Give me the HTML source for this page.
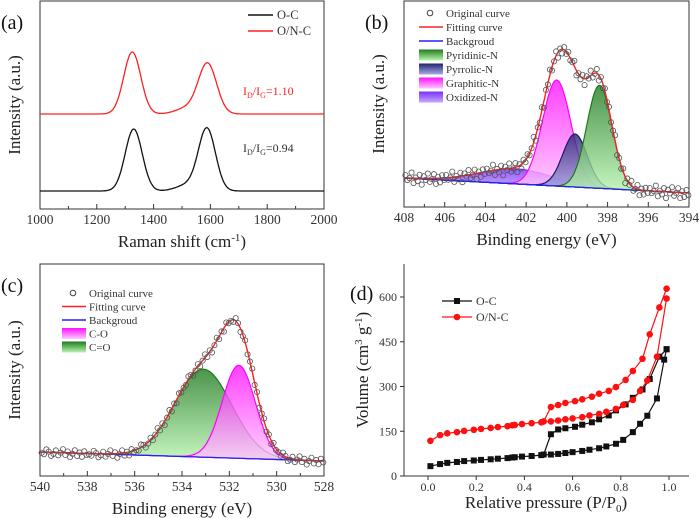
<!DOCTYPE html>
<html><head><meta charset="utf-8"><style>
html,body{margin:0;padding:0;background:#fff;}
svg{display:block;font-family:"Liberation Serif",serif;}
</style></head><body>
<svg id="fig" width="700" height="518" viewBox="0 0 700 518" xmlns="http://www.w3.org/2000/svg">
<defs>
<linearGradient id="gGreen" x1="0" y1="0" x2="0" y2="1"><stop offset="0" stop-color="#1f7a1f"/><stop offset="1" stop-color="#b8f5b0"/></linearGradient>
<linearGradient id="gNavy" x1="0" y1="0" x2="0" y2="1"><stop offset="0" stop-color="#23236e"/><stop offset="1" stop-color="#a8a8e8"/></linearGradient>
<linearGradient id="gMag" x1="0" y1="0" x2="0" y2="1"><stop offset="0" stop-color="#ff10ff"/><stop offset="1" stop-color="#ffc8ff"/></linearGradient>
<linearGradient id="gPur" x1="0" y1="0" x2="0" y2="1"><stop offset="0" stop-color="#7a30ff"/><stop offset="1" stop-color="#c8a8ff"/></linearGradient>
</defs>
</svg>
<script>
// ---------- data ----------
// (a) Raman peaks: [center, height(a.u.), sigma]
const ramanOC = [[1330, 62, 30], [1588, 62, 30], [1520, 6, 40]];
const ramanONC = [[1325, 62, 30], [1590, 50, 32], [1520, 6, 40]];
const ramanTicks = [1000, 1200, 1400, 1600, 1800, 2000];
// (b) N1s components: [center eV, height, sigma]
const n1sPyridinic = [398.4, 103, 0.62];
const n1sPyrrolic = [399.6, 53, 0.6];
const n1sGraphitic = [400.5, 106, 0.7];
const n1sOxidized = [402.5, 15, 1.8];
const n1sTicks = [408, 406, 404, 402, 400, 398, 396, 394];
const n1sNoise = [3, -4, 6, -2, 8, -6, 1, 5, -7, 2, -3, 9, -5, 4, -1, 7, -8, 0, 3, -4];
// (c) O1s components
const o1sCO = [531.6, 93, 0.7];
const o1sCdO = [533.1, 88, 1.2];
const o1sTicks = [540, 538, 536, 534, 532, 530, 528];
const o1sNoise = [2, -3, 5, -1, 4, -4, 1, 6, -2, 3, -5, 0, 4, -3, 2, 5, -1, -4, 3, 1];
// (d) isotherms
const ocAdsP = [0.01,0.05,0.08,0.12,0.15,0.19,0.22,0.26,0.29,0.33,0.35,0.36,0.39,0.43,0.47,0.51,0.54,0.57,0.6,0.64,0.67,0.71,0.74,0.78,0.81,0.85,0.88,0.91,0.95,0.98,0.99];
const ocAdsV = [33,40,44,47,50,52,54,56,58,60,62,63,65,67,70,72,74,77,80,84,88,93,99,108,121,147,175,202,260,390,425];
const ocDesP = [0.99,0.96,0.92,0.89,0.85,0.82,0.78,0.75,0.71,0.68,0.64,0.61,0.57,0.54,0.51,0.48];
const ocDesV = [425,400,325,290,262,240,220,203,190,180,172,165,160,156,140,72];
const oncAdsP = [0.01,0.05,0.08,0.12,0.15,0.19,0.22,0.26,0.29,0.33,0.35,0.36,0.39,0.43,0.47,0.51,0.54,0.57,0.6,0.64,0.67,0.71,0.74,0.78,0.81,0.85,0.88,0.91,0.95,0.99];
const oncAdsV = [118,137,143,147,151,155,158,161,164,167,170,171,174,177,180,183,186,190,193,197,203,208,215,225,238,255,285,320,400,595];
const oncDesP = [0.99,0.96,0.92,0.89,0.85,0.82,0.78,0.75,0.71,0.68,0.64,0.61,0.57,0.54,0.51,0.48];
const oncDesV = [628,565,475,393,352,322,298,285,276,266,257,251,245,238,231,183];
const isoXTicks = [0.0, 0.2, 0.4, 0.6, 0.8, 1.0];
const isoYTicks = [0, 150, 300, 450, 600];

// ---------- helpers ----------
const NS = "http://www.w3.org/2000/svg";
const svg = document.getElementById('fig');
function mk(tag, attrs, parent) {
  const e = document.createElementNS(NS, tag);
  for (const k in attrs) e.setAttribute(k, attrs[k]);
  (parent || svg).appendChild(e);
  return e;
}
function txt(s, x, y, size, anchor, fill, parent) {
  const t = mk('text', {x: x, y: y, 'font-size': size, 'text-anchor': anchor || 'start', fill: fill || '#222'}, parent);
  t.textContent = s;
  return t;
}
function gauss(x, p) { return p[1] * Math.exp(-((x - p[0]) ** 2) / (2 * p[2] * p[2])); }
function pathFrom(pts) { return pts.map((p, i) => (i ? 'L' : 'M') + p[0].toFixed(1) + ',' + p[1].toFixed(1)).join(''); }

// ================= Panel (a) =================
(function () {
  const g = mk('g', {});
  
  
  const L = 40, R = 324, T = 1, B = 209;
  const xs = v => L + (v - 1000) / 1000 * (R - L);
  const frame = mk('rect', {x: L, y: T, width: R - L, height: B - T, fill: 'none', stroke: '#333', 'stroke-width': 1}, g);
  
  
  for (let v = 1000; v <= 2000; v += 100) {
    const major = ramanTicks.includes(v);
    mk('line', {x1: xs(v), x2: xs(v), y1: B, y2: B - (major ? 5 : 3), stroke: '#333'}, g);
  }
  ramanTicks.forEach(v => {
    const t = txt(String(v), xs(v), 224, 13.5, 'middle', '#333', g);
    
    
  });
  const xt = mk('text', {x: 182, y: 247, 'font-size': 17, 'text-anchor': 'middle', fill: '#222'}, g);
  xt.innerHTML = 'Raman shift (cm<tspan dy="-6" font-size="11">-1</tspan><tspan dy="6">)</tspan>';
  
  
  const yt = txt('Intensity (a.u.)', 0, 0, 17, 'middle', '#222', g);
  yt.setAttribute('transform', 'translate(20,105) rotate(-90)');
  
  
  const pl = txt('(a)', 1, 29, 20, 'start', '#111', g);
  
  
  function spec(peaks, base) {
    const pts = [];
    for (let v = 1000; v <= 2000; v += 4) {
      let s = 0; peaks.forEach(p => s += gauss(v, p));
      pts.push([xs(v), base - s]);
    }
    return pathFrom(pts);
  }
  const lr = mk('path', {d: spec(ramanONC, 114), fill: 'none', stroke: '#ff2020', 'stroke-width': 1.3}, g);
  
  
  const lb = mk('path', {d: spec(ramanOC, 191), fill: 'none', stroke: '#111', 'stroke-width': 1.3}, g);
  
  
  const a1 = mk('text', {x: 243, y: 95, 'font-size': 12, fill: '#ff2020'}, g);
  a1.innerHTML = 'I<tspan font-size="8" dy="3">D</tspan><tspan dy="-3">/I</tspan><tspan font-size="8" dy="3">G</tspan><tspan dy="-3">=1.10</tspan>';
  
  
  const a2 = mk('text', {x: 243, y: 152, 'font-size': 12, fill: '#333'}, g);
  a2.innerHTML = 'I<tspan font-size="8" dy="3">D</tspan><tspan dy="-3">/I</tspan><tspan font-size="8" dy="3">G</tspan><tspan dy="-3">=0.94</tspan>';
  
  
  const le1 = mk('line', {x1: 248, x2: 273, y1: 15, y2: 15, stroke: '#111', 'stroke-width': 1.5}, g);
  
  
  txt('O-C', 277, 19, 12.5, 'start', '#333', g);
  const le2 = mk('line', {x1: 248, x2: 273, y1: 31, y2: 31, stroke: '#ff2020', 'stroke-width': 1.5}, g);
  
  
  txt('O/N-C', 277, 35, 12.5, 'start', '#333', g);
})();

// ================= XPS panel builder =================
function xpsPanel(cfg) {
  const g = mk('g', {});
  
  
  const {L, R, T, B, x0, x1} = cfg;
  const xs = v => L + (x0 - v) / (x0 - x1) * (R - L);
  const bg = v => cfg.bgL + (x0 - v) / (x0 - x1) * (cfg.bgR - cfg.bgL);
  const frame = mk('rect', {x: L, y: T, width: R - L, height: B - T, fill: 'none', stroke: '#333'}, g);
  
  
  for (let v = x1; v <= x0; v += 1) {
    const major = cfg.ticks.includes(v);
    mk('line', {x1: xs(v), x2: xs(v), y1: B, y2: B - (major ? 5 : 3), stroke: '#333'}, g);
  }
  cfg.ticks.forEach(v => {
    const t = txt(String(v), xs(v), B + 15, 13.5, 'middle', '#333', g);
    
    
  });
  const xt = txt('Binding energy (eV)', (L + R) / 2, B + 38, 17, 'middle', '#222', g);
  
  
  const yt = txt('Intensity (a.u.)', 0, 0, 17, 'middle', '#222', g);
  yt.setAttribute('transform', 'translate(' + (L - 20) + ',' + ((T + B) / 2) + ') rotate(-90)');
  
  
  const pl = txt(cfg.label, L - 39, T + 28, 20, 'start', '#111', g);
  
  
  cfg.comps.forEach(c => {
    const pts = [];
    for (let v = x1; v <= x0 + 1e-9; v += 0.05) pts.push([xs(v), bg(v) - gauss(v, c.p)]);
    const back = [];
    for (let v = x0; v >= x1 - 1e-9; v -= 0.05) back.push([xs(v), bg(v)]);
    const d = pathFrom(pts) + back.map(p => 'L' + p[0].toFixed(1) + ',' + p[1].toFixed(1)).join('') + 'Z';
    const e = mk('path', {d: d, fill: c.fill, 'fill-opacity': 0.8, stroke: c.stroke, 'stroke-width': 1.2}, g);
    
    
  });
  const bl = mk('line', {x1: L, y1: cfg.bgL, x2: R, y2: cfg.bgR, stroke: '#2020ff', 'stroke-width': 1.2}, g);
  
  
  const fit = v => { let s = 0; cfg.comps.forEach(c => s += gauss(v, c.p)); return bg(v) - s; };
  const fpts = [];
  for (let v = x1; v <= x0 + 1e-9; v += 0.05) fpts.push([xs(v), fit(v)]);
  const fl = mk('path', {d: pathFrom(fpts), fill: 'none', stroke: '#ff2020', 'stroke-width': 1.4}, g);
  
  
  let i = 0;
  for (let v = x1 + 0.03; v <= x0; v += cfg.step) {
    const c = mk('circle', {cx: xs(v), cy: fit(v) + cfg.noise[i % cfg.noise.length] * 0.7, r: 2.6, fill: 'none', stroke: '#555', 'stroke-width': 0.8}, g);
    
    
    i++;
  }
  const lx = cfg.legX, ly = cfg.legY, dy = cfg.legDy;
  const lc = mk('circle', {cx: lx + 11, cy: ly, r: 2.8, fill: 'none', stroke: '#444'}, g);
  
  
  txt('Original curve', lx + 27, ly + 4, 11, 'start', '#333', g);
  const l2 = mk('line', {x1: lx, x2: lx + 24, y1: ly + dy, y2: ly + dy, stroke: '#ff2020', 'stroke-width': 1.5}, g);
  
  
  txt('Fitting curve', lx + 27, ly + dy + 4, 11, 'start', '#333', g);
  const l3 = mk('line', {x1: lx, x2: lx + 24, y1: ly + 2 * dy, y2: ly + 2 * dy, stroke: '#2020ff', 'stroke-width': 1.5}, g);
  
  
  txt('Backgroud', lx + 27, ly + 2 * dy + 4, 11, 'start', '#333', g);
  cfg.comps.slice().reverse().forEach((c, k) => {
    const yy = ly + (3 + k) * dy;
    const r = mk('rect', {x: lx, y: yy - 5.5, width: 24, height: 11, fill: c.fill}, g);
    
    
    txt(c.label, lx + 27, yy + 4, 11, 'start', '#333', g);
  });
}

xpsPanel({
  name: 'panel-b-n1s', label: '(b)', L: 404, R: 689, T: 1, B: 207, x0: 408, x1: 394,
  bgL: 178, bgR: 193, ticks: n1sTicks, noise: n1sNoise, step: 0.1,
  legX: 419, legY: 13, legDy: 14,
  comps: [
    {p: n1sOxidized, fill: 'url(#gPur)', stroke: '#7030d0', name: 'oxidized-n-peak', label: 'Oxidized-N'},
    {p: n1sGraphitic, fill: 'url(#gMag)', stroke: '#ff00ff', name: 'graphitic-n-peak', label: 'Graphitic-N'},
    {p: n1sPyrrolic, fill: 'url(#gNavy)', stroke: '#1a1a70', name: 'pyrrolic-n-peak', label: 'Pyrrolic-N'},
    {p: n1sPyridinic, fill: 'url(#gGreen)', stroke: '#1a7a1a', name: 'pyridinic-n-peak', label: 'Pyridinic-N'}
  ]
});

xpsPanel({
  name: 'panel-c-o1s', label: '(c)', L: 40, R: 324, T: 264, B: 476, x0: 540, x1: 528,
  bgL: 452, bgR: 461, ticks: o1sTicks, noise: o1sNoise, step: 0.1,
  legX: 62, legY: 293, legDy: 13.5,
  comps: [
    {p: o1sCdO, fill: 'url(#gGreen)', stroke: '#1a7a1a', name: 'c-double-o-peak', label: 'C=O'},
    {p: o1sCO, fill: 'url(#gMag)', stroke: '#ff00ff', name: 'c-o-peak', label: 'C-O'}
  ]
});

// ================= Panel (d) =================
(function () {
  const g = mk('g', {});
  
  
  const L = 404, R = 689, T = 264, B = 476;
  const xs = v => 428 + v * (669 - 428);
  const ys = v => B - v / 600 * (B - 297);
  mk('line', {x1: L, x2: L, y1: T, y2: B, stroke: '#333'}, g);
  mk('line', {x1: L, x2: R, y1: B, y2: B, stroke: '#333'}, g);
  isoXTicks.forEach(v => {
    mk('line', {x1: xs(v), x2: xs(v), y1: B, y2: B + 4, stroke: '#333'}, g);
    const t = txt(v.toFixed(1), xs(v), B + 15, 12, 'middle', '#333', g);
    
    
  });
  isoYTicks.forEach(v => {
    mk('line', {x1: L, x2: L - 4, y1: ys(v), y2: ys(v), stroke: '#333'}, g);
    const t = txt(String(v), L - 7, ys(v) + 4, 12, 'end', '#333', g);
    
    
  });
  const xt = mk('text', {x: 546, y: 508, 'font-size': 17, 'text-anchor': 'middle', fill: '#222'}, g);
  xt.innerHTML = 'Relative pressure (P/P<tspan font-size="11" dy="4">0</tspan><tspan dy="-4">)</tspan>';
  
  
  const yt = mk('text', {'font-size': 17, 'text-anchor': 'middle', fill: '#222', transform: 'translate(368,370) rotate(-90)'}, g);
  yt.innerHTML = 'Volume (cm<tspan font-size="11" dy="-6">3</tspan><tspan dy="6"> g</tspan><tspan font-size="11" dy="-6">-1</tspan><tspan dy="6">)</tspan>';
  
  
  const pl = txt('(d)', 350, 300, 20, 'start', '#111', g);
  
  
  function series(P, V, color, shape, name) {
    const pts = P.map((p, i) => [xs(p), ys(V[i])]);
    const l = mk('path', {d: pathFrom(pts), fill: 'none', stroke: color, 'stroke-width': 1.2}, g);
    
    
    pts.forEach(p => {
      let m;
      if (shape === 'sq') m = mk('rect', {x: p[0] - 3, y: p[1] - 3, width: 6, height: 6, fill: color}, g);
      else m = mk('circle', {cx: p[0], cy: p[1], r: 3.3, fill: color}, g);
      
      
    });
  }
  series(ocAdsP, ocAdsV, '#111', 'sq', 'oc-adsorption');
  series(ocDesP, ocDesV, '#111', 'sq', 'oc-desorption');
  series(oncAdsP, oncAdsV, '#ff1010', 'ci', 'onc-adsorption');
  series(oncDesP, oncDesV, '#ff1010', 'ci', 'onc-desorption');
  const le1 = mk('line', {x1: 442, x2: 472, y1: 301, y2: 301, stroke: '#111', 'stroke-width': 1.3}, g);
  
  
  mk('rect', {x: 454, y: 298, width: 6, height: 6, fill: '#111'}, g);
  txt('O-C', 476, 305, 12, 'start', '#333', g);
  const le2 = mk('line', {x1: 442, x2: 472, y1: 317, y2: 317, stroke: '#ff1010', 'stroke-width': 1.3}, g);
  
  
  mk('circle', {cx: 457, cy: 317, r: 3.3, fill: '#ff1010'}, g);
  txt('O/N-C', 476, 321, 12, 'start', '#333', g);
})();
</script>
</body></html>
